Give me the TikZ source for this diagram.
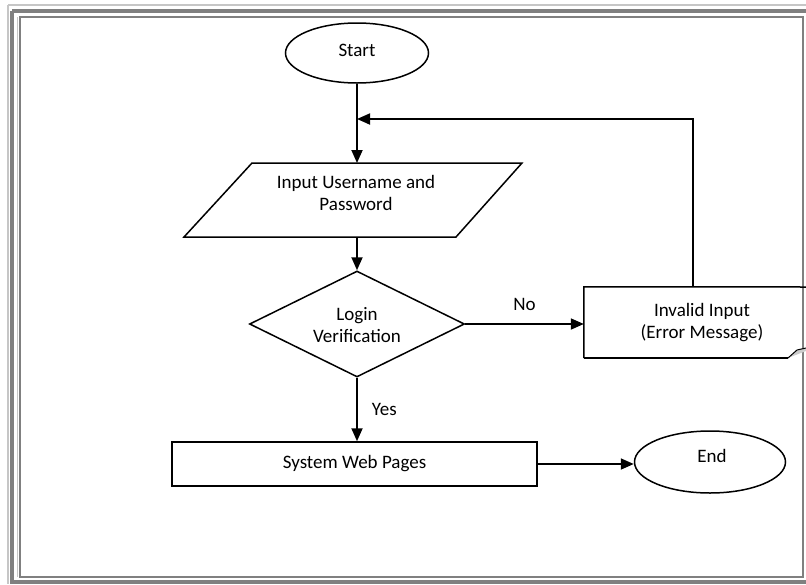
\documentclass[tikz,border=0pt]{standalone}
\usepackage{fontspec}
\setmainfont{Carlito}
\usetikzlibrary{shapes.geometric,arrows.meta}
\begin{document}
\begin{tikzpicture}[x=1pt,y=-1pt,
  every node/.style={font=\fontsize{19}{22}\selectfont, align=center, inner sep=0pt},
  conn/.style={line width=1.8pt},
  arr/.style={conn,-{Triangle[length=13pt,width=11pt]}},
  shp/.style={draw, line width=1.5pt},
  lbl/.style={font=\fontsize{19}{22}\selectfont}]
\useasboundingbox (0,0) rectangle (806,584);
% frame
\draw[gray!45, line width=1.2pt] (8,5) -- (806,5);
\draw[gray!45, line width=1.2pt] (8,5) -- (8,584);
\draw[gray!100, line width=4pt] (12,11) -- (806,11);
\draw[gray!100, line width=4pt] (12,11) -- (12,584);
\draw[gray!100, line width=4pt] (12,582) -- (806,582);
\draw[gray, line width=2pt] (20,17) rectangle (803,577);
\draw[gray!45, line width=1pt] (17,17) -- (17,577);
% nodes
\node[shp, ellipse, minimum width=143, minimum height=60] (start) at (357,53) {};
\node (starttxt) at (357,50) {Start};
\draw[shp] (252,163) -- (522,163) -- (456,237) -- (184,237) -- cycle;
\node (inp) at (356,193) {Input Username and\\Password};
\coordinate (inpT) at (357,163);
\coordinate (inpB) at (357,237);
\node[shp, diamond, minimum width=215, minimum height=106] (ver) at (357,324) {};
\node (vertxt) at (357,325) {Login\\Verification};
\node[shp, rectangle, minimum width=365, minimum height=44] (web) at (354.5,464) {System Web Pages};
\node[shp, ellipse, minimum width=151, minimum height=62] (end) at (710,462) {};
\node (endtxt) at (712,456) {End};
% error box (clipped on the right by the page)
\node[minimum width=236, minimum height=71] (err) at (702,322.5) {Invalid Input\\(Error Message)};
\draw[shp] (err.south west |- 0,358) -- (788,358);
\draw[shp] (err.south west |- 0,358) -- (err.north west) -- (806,287);
\fill[gray!40] (788,358) -- (797,350) -- (806,348) -- (806,351) -- cycle;
\draw[line width=1pt] (788,358) -- (797,350) -- (806,348);
% connectors
\draw[arr] (start.south) -- (inpT);
\draw[arr] (inpB) -- (ver.north);
\draw[arr] (ver.east) -- (ver.east -| err.west) node[midway, above=12pt, lbl] {No};
\draw[arr] (ver.south) -- (ver.south |- web.north) node[midway, right=14pt, lbl] {Yes};
\draw[arr] (web.east) -- (web.east -| end.west);
\coordinate (up) at (693,119);
\draw[arr] (up |- err.north) -- (up) -- (start.south |- up);
\end{tikzpicture}
\end{document}
